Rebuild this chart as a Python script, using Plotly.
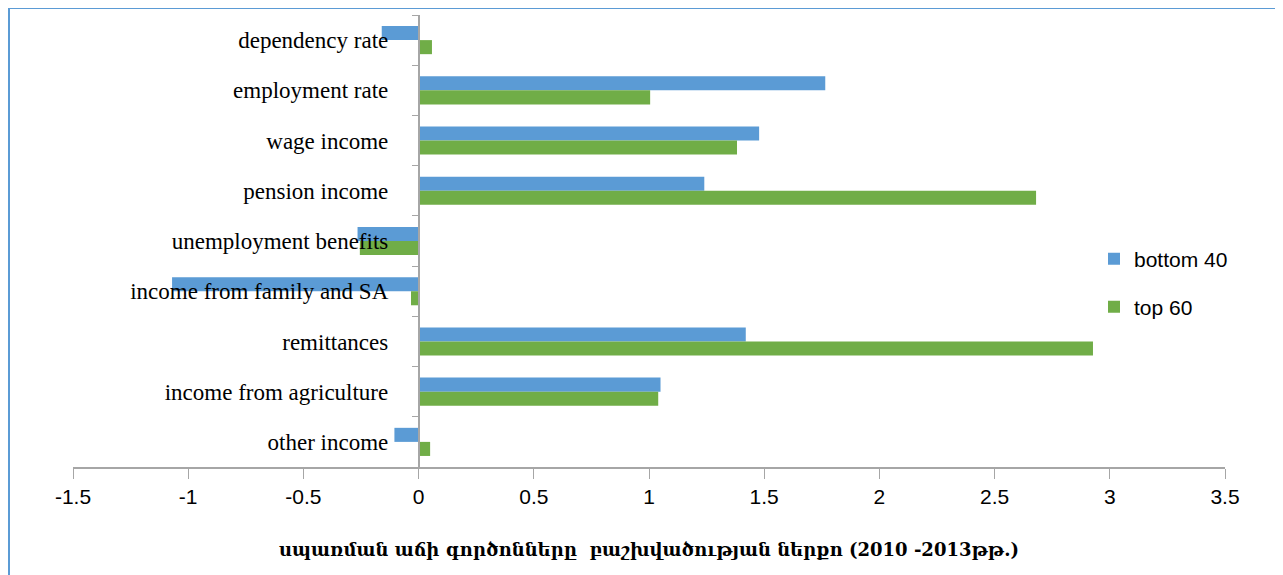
import plotly.graph_objects as go

categories = ["dependency rate", "employment rate", "wage income", "pension income",
              "unemployment benefits", "income from family and SA", "remittances",
              "income from agriculture", "other income"]
bottom40 = [-0.16, 1.765, 1.478, 1.24, -0.265, -1.07, 1.42, 1.05, -0.105]
top60 = [0.058, 1.005, 1.382, 2.68, -0.255, -0.033, 2.927, 1.04, 0.05]
x_ticks = [-1.5, -1, -0.5, 0, 0.5, 1, 1.5, 2, 2.5, 3, 3.5]
x_title = "սպառման աճի գործոնները  բաշխվածության ներքո (2010 -2013թթ.)"

W, H = 1283, 575
OFF = 8  # page body margin offset
L, R, T, B = 73 - OFF, 1225 - OFF, 15 - OFF, 467 - OFF
xmin, xmax = -1.5, 3.5
zero_frac = (0 - xmin) / (xmax - xmin)

fig = go.Figure()
fig.add_trace(go.Bar(y=categories, x=bottom40, orientation="h", name="bottom 40",
                     marker=dict(color="#5B9BD5", line=dict(width=0)), legend="legend"))
fig.add_trace(go.Bar(y=categories, x=top60, orientation="h", name="top 60",
                     marker=dict(color="#70AD47", line=dict(width=0)), legend="legend2"))

pw = R - L
ph = B - T
leg_x = (1094 - OFF - L) / pw
fig.update_layout(
    width=W, height=H,
    margin=dict(l=L, r=W - R, t=T, b=H - B, autoexpand=False),
    paper_bgcolor="white", plot_bgcolor="white",
    barmode="group", bargap=0.44, bargroupgap=0,
    xaxis=dict(range=[xmin, xmax], tickvals=x_ticks,
               ticktext=[("%g" % v) for v in x_ticks],
               showgrid=False, zeroline=False, showline=True, linecolor="#A6A6A6", linewidth=1.5,
               ticks="outside", ticklen=10, tickcolor="#A6A6A6", tickwidth=1,
               tickfont=dict(family="Liberation Sans Narrow, Liberation Sans, Arial", size=21, color="black"),
               automargin=False,
               title=dict(text="<b>" + x_title + "</b>", standoff=36,
                          font=dict(family="DejaVu Serif, serif", size=18, color="black"))),
    yaxis=dict(autorange="reversed", type="category", anchor="free", position=zero_frac,
               showgrid=False, zeroline=False, showline=True, linecolor="#A6A6A6", linewidth=1.5,
               ticks="outside", ticklen=6, tickcolor="#A6A6A6", tickson="boundaries",
               ticklabelstandoff=25,
               tickfont=dict(family="Liberation Serif, Times New Roman, serif", size=23, color="black"),
               automargin=False),
    legend=dict(x=leg_x, y=(B - (259 - OFF)) / ph, xanchor="left", yanchor="middle",
                font=dict(family="Liberation Sans, Arial", size=21, color="black"),
                bgcolor="rgba(0,0,0,0)"),
    legend2=dict(x=leg_x, y=(B - (307 - OFF)) / ph, xanchor="left", yanchor="middle",
                 font=dict(family="Liberation Sans, Arial", size=21, color="black"),
                 bgcolor="rgba(0,0,0,0)"),
    showlegend=True,
    shapes=[dict(type="rect", xref="paper", yref="paper",
                 x0=(1 - L) / pw, x1=(1300 - L) / pw,
                 y0=(B - 600) / ph, y1=(B - 0) / ph,
                 line=dict(color="#5B9BD5", width=2), fillcolor="rgba(0,0,0,0)", layer="below")],
)

fig.write_html("out.html")
